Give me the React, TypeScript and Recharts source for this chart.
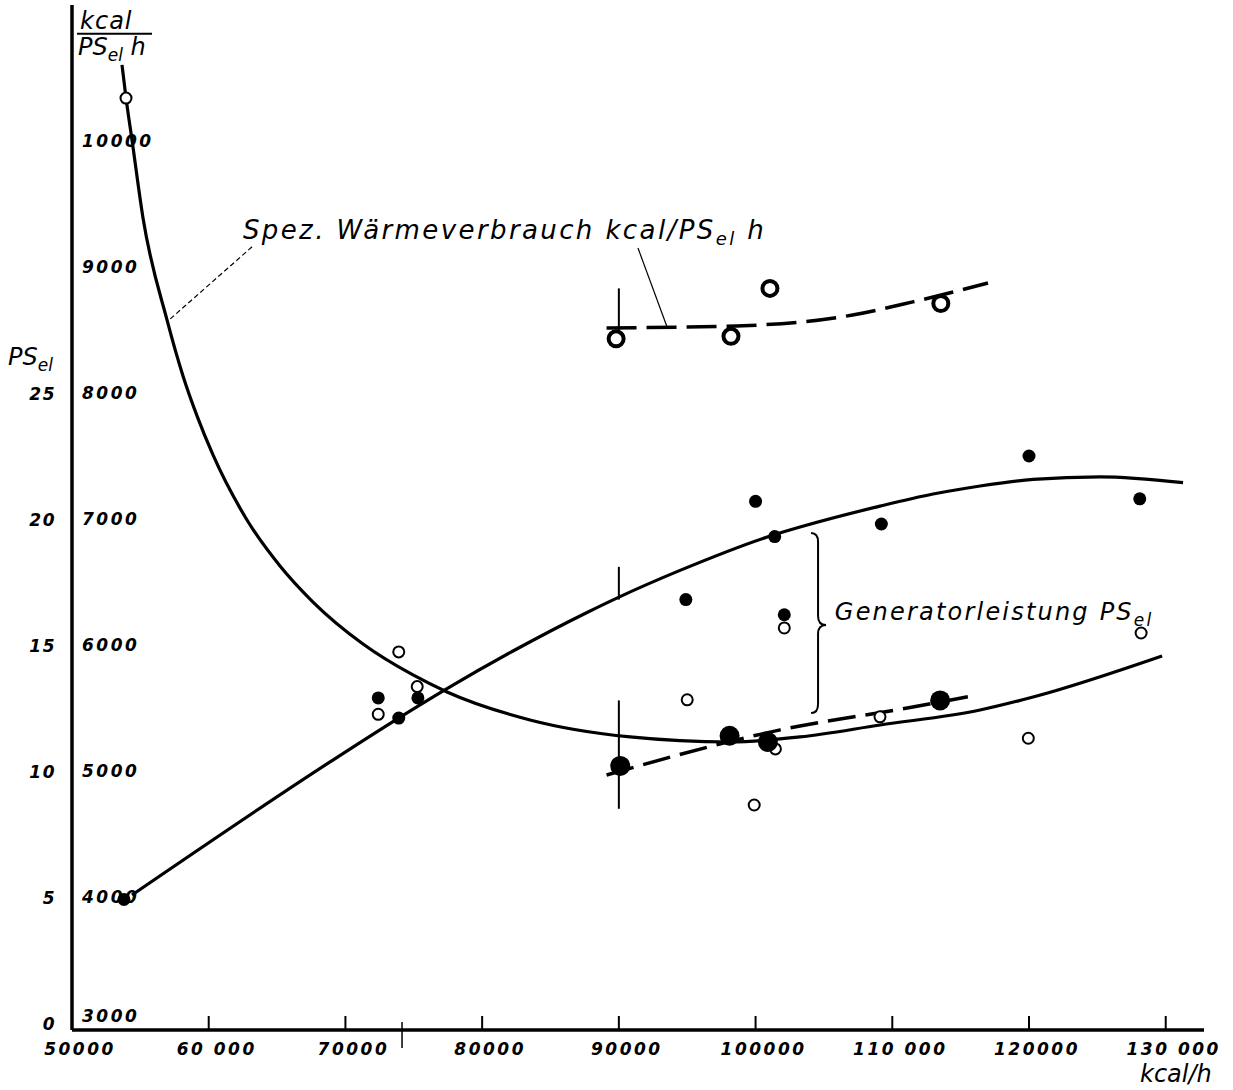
import React from 'react';
import {
  ComposedChart,
  Line,
  Scatter,
  XAxis,
  YAxis,
  ReferenceLine,
  ReferenceDot,
} from 'recharts';

// ---------- tick definitions ----------
const xTicks = [50000, 60000, 70000, 80000, 90000, 100000, 110000, 120000, 130000];
const xTickLabels = ['50000', '60 000', '70000', '80000', '90000', '100000', '110 000', '120000', '130 000'];
const kcalTicks = [3000, 4000, 5000, 6000, 7000, 8000, 9000, 10000];
const psTicks = [0, 5, 10, 15, 20, 25];

// ---------- measured points, series 1 ----------
// Generatorleistung PS_el (small filled dots)
const psMeasured = [
  { x: 53800, y: 4.9 },
  { x: 72400, y: 12.9 },
  { x: 73900, y: 12.1 },
  { x: 75300, y: 12.9 },
  { x: 94900, y: 16.8 },
  { x: 100000, y: 20.7 },
  { x: 101400, y: 19.3 },
  { x: 102100, y: 16.2 },
  { x: 109200, y: 19.8 },
  { x: 120000, y: 22.5 },
  { x: 128100, y: 20.8 },
];
// Spez. Wärmeverbrauch kcal/PS_el h (small open circles)
const kcalMeasured = [
  { x: 53950, y: 10340 },
  { x: 72400, y: 5450 },
  { x: 73900, y: 5945 },
  { x: 75250, y: 5670 },
  { x: 95000, y: 5565 },
  { x: 99900, y: 4730 },
  { x: 101450, y: 5175 },
  { x: 102100, y: 6135 },
  { x: 109100, y: 5430 },
  { x: 119950, y: 5260 },
  { x: 128200, y: 6095 },
];

// ---------- measured points, series 2 ----------
const ps2Measured = [
  { x: 90100, y: 10.2 },
  { x: 98100, y: 11.4 },
  { x: 100900, y: 11.15 },
  { x: 113500, y: 12.8 },
];
const kcal2Measured = [
  { x: 89800, y: 8430 },
  { x: 98200, y: 8450 },
  { x: 101050, y: 8830 },
  { x: 113550, y: 8710 },
];

// ---------- hand-drawn curves ----------
const kcalCurve = [
  { x: 53658, y: 10604 },
  { x: 53950, y: 10342 },
  { x: 54389, y: 10008 },
  { x: 55194, y: 9389 },
  { x: 56949, y: 8580 },
  { x: 58120, y: 8135 },
  { x: 59144, y: 7818 },
  { x: 60314, y: 7508 },
  { x: 62801, y: 6992 },
  { x: 65215, y: 6627 },
  { x: 67629, y: 6341 },
  { x: 71287, y: 6008 },
  { x: 74944, y: 5762 },
  { x: 77431, y: 5627 },
  { x: 83503, y: 5405 },
  { x: 90819, y: 5270 },
  { x: 98133, y: 5230 },
  { x: 103254, y: 5270 },
  { x: 109105, y: 5365 },
  { x: 116420, y: 5484 },
  { x: 120297, y: 5587 },
  { x: 129733, y: 5913 },
];
const psCurve = [
  { x: 54389, y: 5.08 },
  { x: 68873, y: 10.36 },
  { x: 73774, y: 12.06 },
  { x: 77431, y: 13.27 },
  { x: 82259, y: 14.76 },
  { x: 87672, y: 16.29 },
  { x: 90087, y: 16.92 },
  { x: 94475, y: 17.96 },
  { x: 101278, y: 19.36 },
  { x: 103254, y: 19.68 },
  { x: 109105, y: 20.51 },
  { x: 112982, y: 20.99 },
  { x: 116420, y: 21.31 },
  { x: 120297, y: 21.57 },
  { x: 125198, y: 21.67 },
  { x: 131269, y: 21.44 },
];
const kcal2Curve = [
  { x: 89100, y: 8516 },
  { x: 98600, y: 8532 },
  { x: 107100, y: 8619 },
  { x: 111500, y: 8723 },
  { x: 117000, y: 8873 },
];
const ps2Curve = [
  { x: 89100, y: 9.84 },
  { x: 101800, y: 11.63 },
  { x: 111500, y: 12.54 },
  { x: 115900, y: 12.98 },
];

const NUM_FONT = "'DejaVu Sans', sans-serif";
const TXT_FONT = "'DejaVu Sans', sans-serif";

const XTick = (props: any) => {
  const { x, y, payload } = props;
  const i = xTicks.indexOf(payload.value);
  const label = i >= 0 ? xTickLabels[i] : String(payload.value);
  return (
    <g>
      {payload.value !== 50000 && (
        <line x1={x} x2={x} y1={y - 14} y2={y} stroke="#000" strokeWidth={2} />
      )}
      <text
        x={x + 8}
        y={y + 25}
        textAnchor="middle"
        fontFamily={NUM_FONT}
        fontStyle="italic"
        fontWeight="bold"
        fontSize={17}
        letterSpacing={2.5}
        fill="#000"
      >
        {label}
      </text>
    </g>
  );
};

const KcalTick = (props: any) => {
  const { x, y, payload } = props;
  const dy = payload.value === 3000 ? -1 : 6;
  return (
    <text
      x={x}
      y={y + dy}
      textAnchor="start"
      fontFamily={NUM_FONT}
      fontStyle="italic"
      fontWeight="bold"
      fontSize={17}
      letterSpacing={2.5}
      fill="#000"
    >
      {payload.value}
    </text>
  );
};

const PsTick = (props: any) => {
  const { x, y, payload } = props;
  return (
    <text
      x={x}
      y={y + 7}
      textAnchor="end"
      fontFamily={NUM_FONT}
      fontStyle="italic"
      fontWeight="bold"
      fontSize={17}
      letterSpacing={1.5}
      fill="#000"
    >
      {payload.value}
    </text>
  );
};

const dotSmall = (p: any) => <circle cx={p.cx} cy={p.cy} r={6.5} fill="#000" />;
const dotOpen = (p: any) => (
  <circle cx={p.cx} cy={p.cy} r={5.5} fill="#fff" stroke="#000" strokeWidth={2} />
);
const dotBig = (p: any) => <circle cx={p.cx} cy={p.cy} r={10} fill="#000" />;
const dotRing = (p: any) => (
  <circle cx={p.cx} cy={p.cy} r={7.5} fill="#fff" stroke="#000" strokeWidth={4} />
);

const textShape = (node: (x: number, y: number) => React.ReactElement) => (p: any) =>
  node(p.cx, p.cy);

const braceShape = (p: any) => {
  const x = p.x1;
  const y1 = Math.min(p.y1, p.y2);
  const y2 = Math.max(p.y1, p.y2);
  const ym = (y1 + y2) / 2 + 2;
  const d = `M ${x - 7} ${y1} Q ${x} ${y1} ${x} ${y1 + 9} L ${x} ${ym - 9} Q ${x} ${ym} ${x + 8} ${ym} Q ${x} ${ym} ${x} ${ym + 9} L ${x} ${y2 - 9} Q ${x} ${y2} ${x - 7} ${y2}`;
  return <path d={d} fill="none" stroke="#000" strokeWidth={2} />;
};

export default function App() {
  return (
    <div style={{ position: 'absolute', left: 0, top: 0, width: 1233, height: 1090, background: '#fff' }}>
      <ComposedChart
        width={1233}
        height={1090}
        margin={{ top: 5, right: 29, bottom: 0, left: 0 }}
      >
        <XAxis
          xAxisId="x"
          type="number"
          dataKey="x"
          domain={[50000, 132800]}
          allowDataOverflow
          ticks={xTicks}
          tick={<XTick />}
          tickLine={false}
          tickSize={0}
          tickMargin={0}
          height={60}
          axisLine={{ stroke: '#000', strokeWidth: 3.5 }}
          interval={0}
        />
        <YAxis
          yAxisId="ps"
          type="number"
          dataKey="y"
          orientation="left"
          domain={[-0.278, 40.395]}
          allowDataOverflow
          ticks={psTicks}
          tick={<PsTick />}
          tickLine={false}
          axisLine={false}
          tickSize={0}
          tickMargin={16}
          width={72}
          interval={0}
        />
        <YAxis
          yAxisId="kcal"
          type="number"
          dataKey="y"
          orientation="left"
          mirror
          domain={[2944.4, 11079]}
          allowDataOverflow
          ticks={kcalTicks}
          tick={<KcalTick />}
          tickLine={false}
          tickSize={0}
          tickMargin={10}
          axisLine={{ stroke: '#000', strokeWidth: 3.5 }}
          interval={0}
        />

        {/* hand-drawn curves */}
        <Line
          xAxisId="x"
          yAxisId="kcal"
          data={kcalCurve}
          dataKey="y"
          type="monotone"
          stroke="#000"
          strokeWidth={3.2}
          dot={false}
          activeDot={false}
          isAnimationActive={false}
        />
        <Line
          xAxisId="x"
          yAxisId="ps"
          data={psCurve}
          dataKey="y"
          type="monotone"
          stroke="#000"
          strokeWidth={3.2}
          dot={false}
          activeDot={false}
          isAnimationActive={false}
        />
        <Line
          xAxisId="x"
          yAxisId="kcal"
          data={kcal2Curve}
          dataKey="y"
          type="monotone"
          stroke="#000"
          strokeWidth={3.5}
          strokeDasharray="30 10"
          dot={false}
          activeDot={false}
          isAnimationActive={false}
        />
        <Line
          xAxisId="x"
          yAxisId="ps"
          data={ps2Curve}
          dataKey="y"
          type="monotone"
          stroke="#000"
          strokeWidth={3.5}
          strokeDasharray="28 10"
          dot={false}
          activeDot={false}
          isAnimationActive={false}
        />

        {/* marker lines at 90000 and 74000 */}
        <ReferenceLine xAxisId="x" yAxisId="kcal" ifOverflow="visible"
          segment={[{ x: 90000, y: 8830 }, { x: 90000, y: 8440 }]} stroke="#000" strokeWidth={2} />
        <ReferenceLine xAxisId="x" yAxisId="ps" ifOverflow="visible"
          segment={[{ x: 90000, y: 18.1 }, { x: 90000, y: 16.8 }]} stroke="#000" strokeWidth={2} />
        <ReferenceLine xAxisId="x" yAxisId="ps" ifOverflow="visible"
          segment={[{ x: 90000, y: 12.8 }, { x: 90000, y: 8.5 }]} stroke="#000" strokeWidth={2} />
        <ReferenceLine xAxisId="x" yAxisId="kcal" ifOverflow="visible"
          segment={[{ x: 74140, y: 3008 }, { x: 74140, y: 2802 }]} stroke="#000" strokeWidth={1.5} />

        {/* leader lines */}
        <ReferenceLine xAxisId="x" yAxisId="kcal" ifOverflow="visible"
          segment={[{ x: 63170, y: 9160 }, { x: 56950, y: 8565 }]} stroke="#000" strokeWidth={1.2} strokeDasharray="5 3" />
        <ReferenceLine xAxisId="x" yAxisId="kcal" ifOverflow="visible"
          segment={[{ x: 91400, y: 9150 }, { x: 93520, y: 8525 }]} stroke="#000" strokeWidth={1.2} />

        {/* brace */}
        <ReferenceLine xAxisId="x" yAxisId="ps" ifOverflow="visible"
          segment={[{ x: 104570, y: 19.44 }, { x: 104570, y: 12.3 }]} shape={braceShape} />

        {/* markers */}
        <Scatter xAxisId="x" yAxisId="ps" data={psMeasured} dataKey="y" shape={dotSmall} isAnimationActive={false} />
        <Scatter xAxisId="x" yAxisId="kcal" data={kcalMeasured} dataKey="y" shape={dotOpen} isAnimationActive={false} />
        <Scatter xAxisId="x" yAxisId="ps" data={ps2Measured} dataKey="y" shape={dotBig} isAnimationActive={false} />
        <Scatter xAxisId="x" yAxisId="kcal" data={kcal2Measured} dataKey="y" shape={dotRing} isAnimationActive={false} />

        {/* texts */}
        <ReferenceDot xAxisId="x" yAxisId="kcal" x={62500} y={9225} r={0} ifOverflow="visible"
          shape={textShape((x, y) => (
            <text x={x} y={y} fontFamily={TXT_FONT} fontStyle="italic" fontSize={26} letterSpacing={2.4} fill="#000">
              Spez. Wärmeverbrauch kcal/PS
              <tspan fontSize={18} dy={6}>el</tspan>
              <tspan dy={-6}> h</tspan>
            </text>
          ))} />
        <ReferenceDot xAxisId="x" yAxisId="ps" x={105800} y={16.0} r={0} ifOverflow="visible"
          shape={textShape((x, y) => (
            <text x={x} y={y} fontFamily={TXT_FONT} fontStyle="italic" fontSize={24} letterSpacing={2.2} fill="#000">
              Generatorleistung PS
              <tspan fontSize={17} dy={6}>el</tspan>
            </text>
          ))} />
        <ReferenceDot xAxisId="x" yAxisId="kcal" x={45320} y={8220} r={0} ifOverflow="visible"
          shape={textShape((x, y) => (
            <text x={x} y={y} fontFamily={TXT_FONT} fontStyle="italic" fontSize={24} fill="#000">
              PS
              <tspan fontSize={17} dy={6}>el</tspan>
            </text>
          ))} />
        <ReferenceDot xAxisId="x" yAxisId="kcal" x={50590} y={10885} r={0} ifOverflow="visible"
          shape={textShape((x, y) => (
            <text x={x} y={y} fontFamily={TXT_FONT} fontStyle="italic" fontSize={24} letterSpacing={1} fill="#000">
              kcal
            </text>
          ))} />
        <ReferenceLine xAxisId="x" yAxisId="kcal" ifOverflow="visible"
          segment={[{ x: 50370, y: 10850 }, { x: 55850, y: 10850 }]} stroke="#000" strokeWidth={2} />
        <ReferenceDot xAxisId="x" yAxisId="kcal" x={50440} y={10680} r={0} ifOverflow="visible"
          shape={textShape((x, y) => (
            <text x={x} y={y} fontFamily={TXT_FONT} fontStyle="italic" fontSize={24} fill="#000">
              PS
              <tspan fontSize={17} dy={6}>el</tspan>
              <tspan dy={-6}> h</tspan>
            </text>
          ))} />
        <ReferenceDot xAxisId="x" yAxisId="kcal" x={128120} y={2535} r={0} ifOverflow="visible"
          shape={textShape((x, y) => (
            <text x={x} y={y} fontFamily={TXT_FONT} fontStyle="italic" fontSize={24} fill="#000">
              kcal/h
            </text>
          ))} />
      </ComposedChart>
    </div>
  );
}
